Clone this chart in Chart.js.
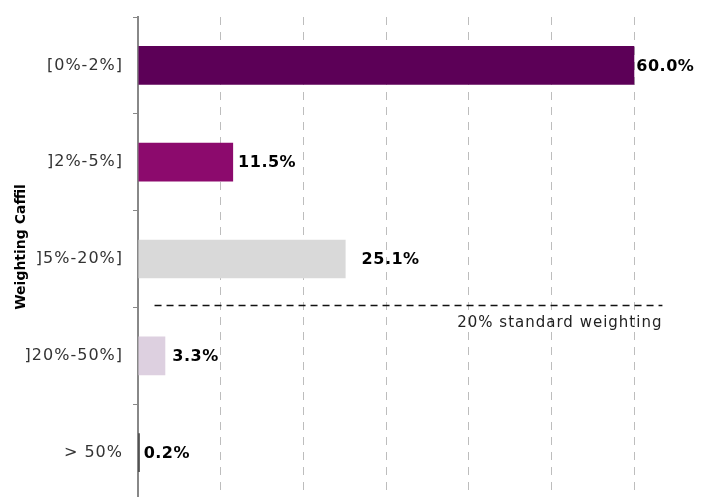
<!DOCTYPE html>
<html lang="en">
<head>
<meta charset="UTF-8">
<title>Weighting Caffil</title>
<script src="https://cdn.jsdelivr.net/npm/chart.js"></script>
<style>
  html, body { margin: 0; padding: 0; overflow: hidden; background: #fff; }
  canvas { display: block; }
</style>
</head>
<body>

<canvas id="weightChart" width="717" height="501"></canvas>

<script>
// weighting buckets and share of loans in each
const categories = ["[0%-2%]", "]2%-5%]", "]5%-20%]", "]20%-50%]", "> 50%"];
const shares = [60.0, 11.5, 25.1, 3.3, 0.2];
const barColors = ["#5c0057", "#8c0a6d", "#d9d9d9", "#ddd0e0", "#1a1a1a"];
const labelGap = [2, 5, 16, 7, 4];

// x scale range
const xMin = 0;
const xMax = 70;
const xStep = 10;

// reference line between the ]5%-20%] and ]20%-50%] buckets
const refLineAt = 2.5;
const refLineFrom = 2;
const refLineTo = 63.4;
const refLineText = "20% standard weighting";

const axisTitle = "Weighting Caffil";

const FONT = "'DejaVu Sans', Verdana, sans-serif";

// slightly wider text, closer to Verdana
const spacing = {
  id: "spacing",
  beforeDraw(chart) { chart.ctx.letterSpacing = "1px"; },
  afterDraw(chart) { chart.ctx.letterSpacing = "0px"; }
};

const valueLabels = {
  id: "valueLabels",
  afterDatasetsDraw(chart) {
    const ctx = chart.ctx;
    const meta = chart.getDatasetMeta(0);
    ctx.save();
    ctx.letterSpacing = "0.5px";
    ctx.font = "bold 16px " + FONT;
    ctx.fillStyle = "#000";
    ctx.textAlign = "left";
    ctx.textBaseline = "middle";
    meta.data.forEach((bar, i) => {
      ctx.fillText(shares[i].toFixed(1) + "%", bar.x + labelGap[i], bar.y + 1);
    });
    ctx.restore();
  }
};

const refLine = {
  id: "refLine",
  afterDatasetsDraw(chart) {
    const ctx = chart.ctx;
    const x = chart.scales.x, y = chart.scales.y;
    const py = Math.round(y.getPixelForValue(refLineAt)) - 1.5;
    const x1 = x.getPixelForValue(refLineFrom);
    const x2 = x.getPixelForValue(refLineTo);
    ctx.save();
    ctx.strokeStyle = "#111";
    ctx.lineWidth = 1.5;
    ctx.setLineDash([7, 5]);
    ctx.beginPath();
    ctx.moveTo(x1, py);
    ctx.lineTo(x2, py);
    ctx.stroke();
    ctx.setLineDash([]);
    ctx.letterSpacing = "1px";
    ctx.font = "15px " + FONT;
    ctx.fillStyle = "#222";
    ctx.textAlign = "right";
    ctx.textBaseline = "middle";
    ctx.fillText(refLineText, x2, py + 18);
    ctx.restore();
  }
};

// vertical axis title, sitting a bit above the axis middle
const yTitle = {
  id: "yTitle",
  afterDraw(chart) {
    const ctx = chart.ctx;
    ctx.save();
    ctx.letterSpacing = "0px";
    ctx.translate(21, 247);
    ctx.rotate(-Math.PI / 2);
    ctx.font = "bold 14px " + FONT;
    ctx.fillStyle = "#000";
    ctx.textAlign = "center";
    ctx.textBaseline = "middle";
    ctx.fillText(axisTitle, 0, 0);
    ctx.restore();
  }
};

new Chart(document.getElementById("weightChart"), {
  type: "bar",
  data: {
    labels: categories,
    datasets: [{
      data: shares,
      backgroundColor: barColors,
      borderWidth: 0,
      barPercentage: 0.4,
      categoryPercentage: 1.0
    }]
  },
  options: {
    indexAxis: "y",
    responsive: false,
    animation: false,
    layout: { padding: { top: 17, left: 0, right: 0, bottom: 0 } },
    plugins: {
      legend: { display: false },
      tooltip: { enabled: false }
    },
    scales: {
      x: {
        min: xMin,
        max: xMax,
        ticks: { display: false, stepSize: xStep },
        grid: {
          drawTicks: false,
          lineWidth: 1,
          color: c => (c.tick && c.tick.value === 0) ? "rgba(0,0,0,0)" : "#bdbdbd"
        },
        border: { display: false, dash: [8, 7] },
        afterFit: s => { s.height = 0; }
      },
      y: {
        grid: {
          offset: true,
          drawOnChartArea: false,
          drawTicks: true,
          tickLength: 5,
          color: "#888"
        },
        border: { color: "#888", width: 2 },
        ticks: {
          color: "#333",
          padding: 10,
          font: { family: FONT, size: 16 }
        },
        afterFit: s => {
          s.width = 138;
          s.paddingTop = 0;
          s.paddingBottom = 0;
        }
      }
    }
  },
  plugins: [spacing, valueLabels, refLine, yTitle]
});
</script>

</body>
</html>
